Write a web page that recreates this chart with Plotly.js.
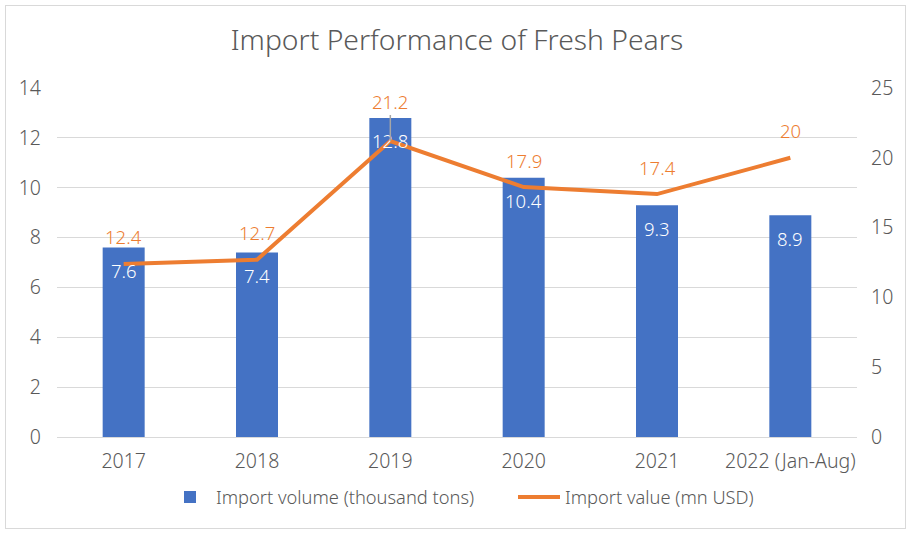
<!DOCTYPE html>
<html>
<head>
<meta charset="utf-8">
<script src="https://cdn.plot.ly/plotly-3.0.1.min.js"></script>
<style>
  html, body { margin: 0; padding: 0; background: #ffffff; }
  #frame { position: absolute; left: 5px; top: 5px; width: 901px; height: 524px; border: 1px solid #d9d9d9; box-sizing: border-box; }
  #chart { position: absolute; left: 0; top: 0; width: 911px; height: 535px; }
</style>
</head>
<body>
<div id="frame"></div>
<div id="chart"></div>
<script>
// Fresh pear imports by year
const years = ['2017', '2018', '2019', '2020', '2021', '2022 (Jan-Aug)'];
const importVolume = [7.6, 7.4, 12.8, 10.4, 9.3, 8.9];      // thousand tons
const importValue = [12.4, 12.7, 21.2, 17.9, 17.4, 20];     // mn USD
const leftTicks = [0, 2, 4, 6, 8, 10, 12, 14];
const rightTicks = [0, 5, 10, 15, 20, 25];

const FONT = '"Noto Sans", "Open Sans", sans-serif';
const GREY = '#595959';
const BLUE = '#4472C4';
const ORANGE = '#ED7D31';
const TICK_FONT = { family: FONT, size: 19.5, color: GREY, weight: 300 };

const traces = [
  {
    type: 'bar',
    name: 'Import volume (thousand tons)',
    x: years,
    y: importVolume,
    marker: { color: BLUE },
    yaxis: 'y',
    hoverinfo: 'x+y'
  },
  {
    type: 'scatter',
    mode: 'lines',
    name: 'Import value (mn USD)',
    x: years,
    y: importValue,
    line: { color: ORANGE, width: 4 },
    yaxis: 'y2',
    hoverinfo: 'x+y'
  }
];

// Value labels: white inside the top of each bar, orange above each line point.
// Category positions are given by index so numeric-looking names stay categories.
const annotations = [];
years.forEach((yr, i) => {
  annotations.push({
    x: i, y: importVolume[i], xref: 'x', yref: 'y',
    text: String(importVolume[i]),
    showarrow: false, yshift: -23,
    font: { family: FONT, size: 18.5, color: '#ffffff', weight: 300 }
  });
  const leader = i === 2;
  annotations.push({
    x: i, y: importValue[i], xref: 'x', yref: 'y2',
    text: String(importValue[i]),
    showarrow: leader,
    arrowhead: 0, arrowwidth: 1.5, arrowcolor: '#a6a6a6',
    ax: 0, ay: -40, standoff: 0,
    yshift: leader ? 0 : 27,
    font: { family: FONT, size: 18.5, color: ORANGE, weight: 300 }
  });
});

const layout = {
  width: 911,
  height: 535,
  margin: { l: 57, r: 54, t: 88, b: 98 },
  paper_bgcolor: 'rgba(0,0,0,0)',
  plot_bgcolor: 'rgba(0,0,0,0)',
  font: { family: FONT, size: 18, color: GREY, weight: 300 },
  title: {
    text: 'Import Performance of Fresh Pears',
    font: { family: FONT, size: 28.3, color: GREY, weight: 300 },
    x: 0.5, xref: 'paper', xanchor: 'center',
    y: 1 - 40 / 535, yanchor: 'middle'
  },
  bargap: 0.685,
  showlegend: true,
  legend: {
    orientation: 'h',
    x: 0.57, xanchor: 'center',
    y: -0.172, yanchor: 'middle',
    font: { family: FONT, size: 18.3, color: GREY, weight: 300 },
    itemwidth: 42,
    entrywidth: 292
  },
  xaxis: {
    type: 'category',
    range: [-0.5, years.length - 0.5],
    showgrid: false,
    showline: true, linecolor: '#d9d9d9', linewidth: 1,
    ticks: '',
    ticklabelstandoff: 7,
    tickfont: TICK_FONT,
    fixedrange: true
  },
  yaxis: {
    range: [0, 14],
    tickvals: leftTicks,
    showgrid: true, gridcolor: '#d9d9d9', gridwidth: 1,
    zeroline: false, showline: false, ticks: '',
    ticklabelstandoff: 15,
    tickfont: TICK_FONT,
    fixedrange: true
  },
  yaxis2: {
    range: [0, 25],
    tickvals: rightTicks,
    overlaying: 'y', side: 'right',
    showgrid: false, zeroline: false, showline: false, ticks: '',
    ticklabelstandoff: 13,
    tickfont: TICK_FONT,
    fixedrange: true
  },
  annotations: annotations
};

Plotly.newPlot('chart', traces, layout, { displayModeBar: false, staticPlot: true });
</script>
</body>
</html>
